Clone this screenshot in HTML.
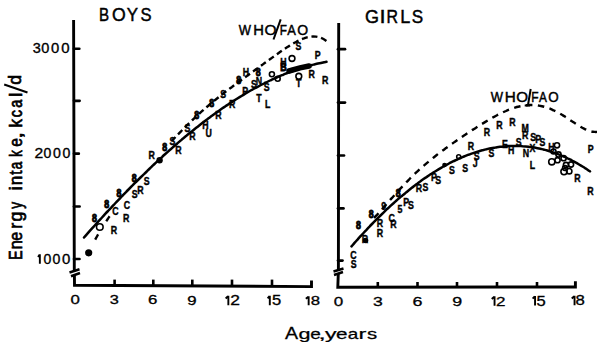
<!DOCTYPE html>
<html><head><meta charset="utf-8"><style>
html,body{margin:0;padding:0;background:#fff;}
svg{display:block;}
text{font-family:"Liberation Sans", sans-serif;fill:#000;}
.ax{fill:none;stroke:#000;stroke-width:2.9;}
.tk{stroke:#000;stroke-width:2.7;stroke-linecap:round;}
.tk2{stroke:#000;stroke-width:2;}
.tk3{stroke:#000;stroke-width:2.6;}
.brk{stroke:#000;stroke-width:2.5;fill:none;}
.yl{font-size:14.5px;stroke:#000;stroke-width:0.45;}
.xl{font-size:13px;stroke:#000;stroke-width:0.45;}
.ttl{font-size:18px;stroke:#000;stroke-width:0.5;}
.axl{font-size:15.5px;stroke:#000;stroke-width:0.5;}
.axl2{font-size:17.5px;stroke:#000;stroke-width:0.6;}
.who{font-size:13px;stroke:#000;stroke-width:0.4;}
.sl{stroke:#000;stroke-width:2;}
.sol{fill:none;stroke:#000;stroke-width:2.5;stroke-linecap:round;}
.dsh{fill:none;stroke:#000;stroke-width:2.4;}
.pt{font-size:10px;font-weight:bold;stroke:#000;stroke-width:0.4;}
.oc{fill:none;stroke:#000;stroke-width:1.6;}
</style></head><body>
<svg width="600" height="347" viewBox="0 0 600 347">
<path d="M73.6 20 L74.3 271.2 M74.4 274.8 L74.5 285.3 L311.5 286.6 V280.4" class="ax"/>
<path d="M74 48.75 H79.3" class="tk"/>
<path d="M74 100.8 H79.6" class="tk"/>
<path d="M74 153.7 H78.8" class="tk"/>
<path d="M74 206.5 H79.6" class="tk"/>
<path d="M74 259 H79.5" class="tk"/>
<path d="M69.5 272.5 L79.5 269.3 M71 276.2 L80 273" class="brk"/>
<path d="M114.6 285.5 V279.6" class="tk3"/>
<path d="M153.3 285.5 V279.6" class="tk3"/>
<path d="M192.3 285.5 V279.6" class="tk3"/>
<path d="M232.0 285.5 V279.6" class="tk3"/>
<path d="M272.0 285.5 V279.6" class="tk3"/>
<text transform="matrix(1.0320 0 0 1.0287 32.82 53.30)" font-size="14" font-weight="normal" stroke="#000" stroke-width="0.340">3</text><text transform="matrix(1.0385 0 0 1.0287 41.31 53.30)" font-size="14" font-weight="normal" stroke="#000" stroke-width="0.339">0</text><text transform="matrix(1.0609 0 0 1.0287 50.89 53.30)" font-size="14" font-weight="normal" stroke="#000" stroke-width="0.335">0</text><text transform="matrix(1.0684 0 0 1.0287 61.29 53.30)" font-size="14" font-weight="normal" stroke="#000" stroke-width="0.334">0</text>
<text transform="matrix(1.1211 0 0 0.9884 34.39 158.30)" font-size="14" font-weight="normal" stroke="#000" stroke-width="0.332">2</text><text transform="matrix(1.0011 0 0 0.9884 43.38 158.30)" font-size="14" font-weight="normal" stroke="#000" stroke-width="0.352">0</text><text transform="matrix(1.0086 0 0 0.9884 52.92 158.30)" font-size="14" font-weight="normal" stroke="#000" stroke-width="0.351">0</text><text transform="matrix(1.0086 0 0 0.9884 62.52 158.30)" font-size="14" font-weight="normal" stroke="#000" stroke-width="0.351">0</text>
<path d="M38.05 256.95 L39.55 254.70 M39.85 254.22 V263.75" fill="none" stroke="#000" stroke-width="1.9"/><text transform="matrix(1.0011 0 0 0.9884 43.38 263.75)" font-size="14" font-weight="normal" stroke="#000" stroke-width="0.352">0</text><text transform="matrix(1.0086 0 0 0.9884 52.52 263.75)" font-size="14" font-weight="normal" stroke="#000" stroke-width="0.351">0</text><text transform="matrix(1.0684 0 0 0.9884 62.09 263.75)" font-size="14" font-weight="normal" stroke="#000" stroke-width="0.340">0</text>
<text transform="matrix(1.2954 0 0 0.9886 70.52 304.10)" font-size="13" font-weight="normal" stroke="#000" stroke-width="0.306">0</text>
<text transform="matrix(1.2574 0 0 0.9886 109.75 304.10)" font-size="13" font-weight="normal" stroke="#000" stroke-width="0.312">3</text>
<text transform="matrix(1.2920 0 0 1.0103 148.02 304.30)" font-size="13" font-weight="normal" stroke="#000" stroke-width="0.304">6</text>
<text transform="matrix(1.2906 0 0 1.0320 187.29 304.50)" font-size="13" font-weight="normal" stroke="#000" stroke-width="0.301">9</text>
<path d="M225.65 298.43 L228.05 296.20 M228.35 295.73 V305.20" fill="none" stroke="#000" stroke-width="1.9"/><text transform="matrix(1.3424 0 0 1.0590 230.30 305.20)" font-size="13" font-weight="normal" stroke="#000" stroke-width="0.291">2</text>
<path d="M267.65 298.43 L269.50 296.20 M269.80 295.73 V305.20" fill="none" stroke="#000" stroke-width="1.9"/><text transform="matrix(1.2736 0 0 1.0590 272.01 305.20)" font-size="13" font-weight="normal" stroke="#000" stroke-width="0.300">5</text>
<path d="M305.85 298.81 L308.35 296.75 M308.65 296.28 V305.20" fill="none" stroke="#000" stroke-width="1.9"/><text transform="matrix(1.2869 0 0 0.9995 310.75 305.20)" font-size="13" font-weight="normal" stroke="#000" stroke-width="0.306">8</text>
<path d="M338.7 23 L338.4 270 M338.3 273.5 L337.8 287.2 L575.4 287 V281.2" class="ax"/>
<path d="M338 49.2 H345" class="tk"/>
<path d="M338 102.6 H345" class="tk"/>
<path d="M338 155.5 H344" class="tk"/>
<path d="M338 208.4 H343.5" class="tk"/>
<path d="M338 260.6 H342.5" class="tk"/>
<path d="M333.5 271.5 L343.5 268.5 M334 275 L343 272" class="brk"/>
<path d="M377.8 287 V282" class="tk3"/>
<path d="M417.5 287 V282" class="tk3"/>
<path d="M457.0 287 V282" class="tk3"/>
<path d="M497.0 287 V282" class="tk3"/>
<path d="M537.0 287 V282" class="tk3"/>
<text transform="matrix(1.3115 0 0 1.0103 333.71 305.80)" font-size="13" font-weight="normal" stroke="#000" stroke-width="0.301">0</text>
<text transform="matrix(1.3547 0 0 1.0320 373.00 305.90)" font-size="13" font-weight="normal" stroke="#000" stroke-width="0.293">3</text>
<text transform="matrix(1.3753 0 0 1.0320 412.47 305.90)" font-size="13" font-weight="normal" stroke="#000" stroke-width="0.291">6</text>
<text transform="matrix(1.3739 0 0 1.0320 452.24 305.90)" font-size="13" font-weight="normal" stroke="#000" stroke-width="0.291">9</text>
<path d="M491.75 298.97 L494.25 296.75 M494.55 296.28 V305.70" fill="none" stroke="#000" stroke-width="1.9"/><text transform="matrix(1.3086 0 0 1.0536 496.02 305.70)" font-size="13" font-weight="normal" stroke="#000" stroke-width="0.296">2</text>
<path d="M532.65 298.70 L534.75 296.45 M535.05 295.98 V305.50" fill="none" stroke="#000" stroke-width="1.9"/><text transform="matrix(1.2736 0 0 1.0645 536.51 305.50)" font-size="13" font-weight="normal" stroke="#000" stroke-width="0.299">5</text>
<path d="M571.75 298.43 L574.25 296.20 M574.55 295.73 V305.20" fill="none" stroke="#000" stroke-width="1.9"/><text transform="matrix(1.2869 0 0 1.0590 575.55 305.20)" font-size="13" font-weight="normal" stroke="#000" stroke-width="0.298">8</text>
<text transform="matrix(0.8403 0 0 1.0073 98.98 21.20)" font-size="18" font-weight="normal" stroke="#000" stroke-width="0.487">B</text><text transform="matrix(0.9807 0 0 1.0073 111.89 21.20)" font-size="18" font-weight="normal" stroke="#000" stroke-width="0.453">O</text><text transform="matrix(0.9407 0 0 1.0073 126.85 21.20)" font-size="18" font-weight="normal" stroke="#000" stroke-width="0.462">Y</text><text transform="matrix(0.9216 0 0 1.0073 140.47 21.20)" font-size="18" font-weight="normal" stroke="#000" stroke-width="0.467">S</text>
<text transform="matrix(0.9999 0 0 1.0477 364.92 22.80)" font-size="18" font-weight="normal" stroke="#000" stroke-width="0.440">G</text><text transform="matrix(1.2212 0 0 1.0477 379.60 22.80)" font-size="18" font-weight="normal" stroke="#000" stroke-width="0.397">I</text><text transform="matrix(0.8842 0 0 1.0477 386.52 22.80)" font-size="18" font-weight="normal" stroke="#000" stroke-width="0.466">R</text><text transform="matrix(1.0017 0 0 1.0477 400.15 22.80)" font-size="18" font-weight="normal" stroke="#000" stroke-width="0.439">L</text><text transform="matrix(0.9506 0 0 1.0477 411.75 22.80)" font-size="18" font-weight="normal" stroke="#000" stroke-width="0.450">S</text>
<text transform="matrix(1.3070 0 0 1.1386 285.11 338.70)" font-size="15" font-weight="normal" stroke="#000" stroke-width="0.245">A</text>
<text transform="matrix(1.4380 0 0 1.0009 298.44 338.70)" font-size="15" font-weight="normal" stroke="#000" stroke-width="0.246">g</text><text transform="matrix(1.2645 0 0 1.0009 310.14 338.70)" font-size="15" font-weight="normal" stroke="#000" stroke-width="0.265">e</text><text transform="matrix(1.8340 0 0 1.0009 318.18 338.70)" font-size="15" font-weight="normal" stroke="#000" stroke-width="0.212">,</text><text transform="matrix(1.5335 0 0 1.0009 325.09 338.70)" font-size="15" font-weight="normal" stroke="#000" stroke-width="0.237">y</text><text transform="matrix(1.3781 0 0 1.0009 335.97 338.70)" font-size="15" font-weight="normal" stroke="#000" stroke-width="0.252">e</text><text transform="matrix(1.2589 0 0 1.0009 347.65 338.70)" font-size="15" font-weight="normal" stroke="#000" stroke-width="0.266">a</text><text transform="matrix(1.5733 0 0 1.0009 358.58 338.70)" font-size="15" font-weight="normal" stroke="#000" stroke-width="0.233">r</text><text transform="matrix(1.3607 0 0 1.0009 367.08 338.70)" font-size="15" font-weight="normal" stroke="#000" stroke-width="0.254">s</text>
<text transform="matrix(0 -0.7739 1.0223 0 22.48 259.82)" font-size="18" font-weight="normal" stroke="#000" stroke-width="0.724">E</text><text transform="matrix(0 -0.8958 1.0223 0 22.41 249.25)" font-size="18" font-weight="normal" stroke="#000" stroke-width="0.678">n</text><text transform="matrix(0 -0.8820 1.0223 0 22.36 240.75)" font-size="18" font-weight="normal" stroke="#000" stroke-width="0.683">e</text><text transform="matrix(0 -0.9889 1.0223 0 22.30 228.86)" font-size="18" font-weight="normal" stroke="#000" stroke-width="0.646">r</text><text transform="matrix(0 -0.9821 1.0223 0 22.25 221.52)" font-size="18" font-weight="normal" stroke="#000" stroke-width="0.649">g</text><text transform="matrix(0 -0.7567 1.0223 0 22.18 208.71)" font-size="18" font-weight="normal" stroke="#000" stroke-width="0.731">y</text><text transform="matrix(0 -1.0430 1.0223 0 22.08 190.53)" font-size="18" font-weight="normal" stroke="#000" stroke-width="0.629">i</text><text transform="matrix(0 -0.9481 1.0223 0 22.03 185.21)" font-size="18" font-weight="normal" stroke="#000" stroke-width="0.660">n</text><text transform="matrix(0 -0.8593 1.0223 0 21.98 174.71)" font-size="18" font-weight="normal" stroke="#000" stroke-width="0.691">t</text><text transform="matrix(0 -0.7409 1.0223 0 21.94 169.24)" font-size="18" font-weight="normal" stroke="#000" stroke-width="0.737">a</text><text transform="matrix(0 -0.7231 1.0223 0 21.86 156.85)" font-size="18" font-weight="normal" stroke="#000" stroke-width="0.745">k</text><text transform="matrix(0 -0.8702 1.0223 0 21.80 146.64)" font-size="18" font-weight="normal" stroke="#000" stroke-width="0.687">e</text><text transform="matrix(0 -1.4434 1.0223 0 21.76 139.11)" font-size="18" font-weight="normal" stroke="#000" stroke-width="0.527">,</text><text transform="matrix(0 -0.9407 1.0223 0 21.68 127.52)" font-size="18" font-weight="normal" stroke="#000" stroke-width="0.662">k</text><text transform="matrix(0 -0.8053 1.0223 0 21.63 117.19)" font-size="18" font-weight="normal" stroke="#000" stroke-width="0.711">c</text><text transform="matrix(0 -0.8057 1.0223 0 21.57 107.79)" font-size="18" font-weight="normal" stroke="#000" stroke-width="0.711">a</text><text transform="matrix(0 -1.1062 1.0223 0 21.51 97.02)" font-size="18" font-weight="normal" stroke="#000" stroke-width="0.611">l</text><text transform="matrix(0 -0.9821 1.0223 0 21.43 84.82)" font-size="18" font-weight="normal" stroke="#000" stroke-width="0.649">d</text>
<path d="M4.2 84.4 L27.5 92.4" fill="none" stroke="#000" stroke-width="2.1"/>
<text transform="matrix(0.9985 0 0 1.1232 238.87 34.80)" font-size="13" font-weight="normal" stroke="#000" stroke-width="0.424">W</text><text transform="matrix(1.1361 0 0 1.1232 253.31 34.80)" font-size="13" font-weight="normal" stroke="#000" stroke-width="0.398">H</text><text transform="matrix(1.1889 0 0 1.1232 264.49 34.80)" font-size="13" font-weight="normal" stroke="#000" stroke-width="0.389">O</text><text transform="matrix(0.9049 0 0 1.1232 279.66 34.80)" font-size="13" font-weight="normal" stroke="#000" stroke-width="0.444">F</text><text transform="matrix(0.9919 0 0 1.1232 287.20 34.80)" font-size="13" font-weight="normal" stroke="#000" stroke-width="0.426">A</text><text transform="matrix(1.0762 0 0 1.1232 297.26 34.80)" font-size="13" font-weight="normal" stroke="#000" stroke-width="0.409">O</text>
<path d="M280.7 19.4 L273.5 39.5" class="sl"/>
<text transform="matrix(0.9985 0 0 1.0674 490.87 102.30)" font-size="13" font-weight="normal" stroke="#000" stroke-width="0.436">W</text><text transform="matrix(1.1774 0 0 1.0674 504.67 102.30)" font-size="13" font-weight="normal" stroke="#000" stroke-width="0.401">H</text><text transform="matrix(1.1663 0 0 1.0674 516.21 102.30)" font-size="13" font-weight="normal" stroke="#000" stroke-width="0.403">O</text><text transform="matrix(0.9207 0 0 1.0674 531.24 102.30)" font-size="13" font-weight="normal" stroke="#000" stroke-width="0.453">F</text><text transform="matrix(0.9107 0 0 1.0674 538.90 102.30)" font-size="13" font-weight="normal" stroke="#000" stroke-width="0.455">A</text><text transform="matrix(1.0311 0 0 1.0674 548.29 102.30)" font-size="13" font-weight="normal" stroke="#000" stroke-width="0.429">O</text>
<path d="M530.7 89 L528 105 M524.7 105.5 H530" class="sl"/>
<path d="M84.0 237.5 C84.5 236.9 86.0 235.2 87.0 234.1 C88.0 233.0 89.0 231.8 90.0 230.7 C91.0 229.6 92.0 228.5 93.0 227.4 C94.0 226.3 95.0 225.2 96.0 224.0 C97.0 222.9 98.0 221.8 99.0 220.7 C100.0 219.6 101.0 218.6 102.0 217.5 C103.0 216.4 104.0 215.3 105.0 214.2 C106.0 213.1 107.0 212.0 108.0 211.0 C109.0 209.9 110.0 208.8 111.0 207.8 C112.0 206.7 113.0 205.6 114.0 204.6 C115.0 203.5 116.0 202.5 117.0 201.4 C118.0 200.4 119.0 199.3 120.0 198.3 C121.0 197.2 122.0 196.2 123.0 195.1 C124.0 194.1 125.0 193.1 126.0 192.1 C127.0 191.0 128.0 190.0 129.0 189.0 C130.0 188.0 131.0 187.0 132.0 186.0 C133.0 184.9 134.0 183.9 135.0 182.9 C136.0 181.9 137.0 180.9 138.0 180.0 C139.0 179.0 140.0 178.0 141.0 177.0 C142.0 176.0 143.0 175.0 144.0 174.1 C145.0 173.1 146.0 172.1 147.0 171.2 C148.0 170.2 149.0 169.2 150.0 168.3 C151.0 167.3 152.0 166.4 153.0 165.4 C154.0 164.5 155.0 163.5 156.0 162.6 C157.0 161.7 158.0 160.7 159.0 159.8 C160.0 158.9 161.0 158.0 162.0 157.1 C163.0 156.1 164.0 155.2 165.0 154.3 C166.0 153.4 167.0 152.5 168.0 151.6 C169.0 150.7 170.0 149.8 171.0 149.0 C172.0 148.1 173.0 147.2 174.0 146.3 C175.0 145.4 176.0 144.6 177.0 143.7 C178.0 142.8 179.0 142.0 180.0 141.1 C181.0 140.3 182.0 139.4 183.0 138.6 C184.0 137.7 185.0 136.9 186.0 136.1 C187.0 135.2 188.0 134.4 189.0 133.6 C190.0 132.8 191.0 132.0 192.0 131.2 C193.0 130.3 194.0 129.5 195.0 128.7 C196.0 127.9 197.0 127.2 198.0 126.4 C199.0 125.6 200.0 124.8 201.0 124.0 C202.0 123.2 203.0 122.5 204.0 121.7 C205.0 121.0 206.0 120.2 207.0 119.4 C208.0 118.7 209.0 117.9 210.0 117.2 C211.0 116.5 212.0 115.7 213.0 115.0 C214.0 114.3 215.0 113.6 216.0 112.8 C217.0 112.1 218.0 111.4 219.0 110.7 C220.0 110.0 221.0 109.3 222.0 108.6 C223.0 107.9 224.0 107.2 225.0 106.6 C226.0 105.9 227.0 105.2 228.0 104.6 C229.0 103.9 230.0 103.2 231.0 102.6 C232.0 101.9 233.0 101.3 234.0 100.6 C235.0 100.0 236.0 99.4 237.0 98.7 C238.0 98.1 239.0 97.5 240.0 96.9 C241.0 96.3 242.0 95.7 243.0 95.1 C244.0 94.5 245.0 93.9 246.0 93.3 C247.0 92.7 248.0 92.1 249.0 91.5 C250.0 91.0 251.0 90.4 252.0 89.8 C253.0 89.3 254.0 88.7 255.0 88.2 C256.0 87.6 257.0 87.1 258.0 86.6 C259.0 86.0 260.0 85.5 261.0 85.0 C262.0 84.5 263.0 84.0 264.0 83.5 C265.0 82.9 266.0 82.5 267.0 82.0 C268.0 81.5 269.0 81.0 270.0 80.5 C271.0 80.0 272.0 79.6 273.0 79.1 C274.0 78.7 275.0 78.2 276.0 77.8 C277.0 77.3 278.0 76.9 279.0 76.4 C280.0 76.0 281.0 75.6 282.0 75.2 C283.0 74.8 284.0 74.3 285.0 73.9 C286.0 73.5 287.0 73.1 288.0 72.8 C289.0 72.4 290.0 72.0 291.0 71.6 C292.0 71.3 293.0 70.9 294.0 70.5 C295.0 70.2 296.0 69.8 297.0 69.5 C298.0 69.2 299.0 68.8 300.0 68.5 C301.0 68.2 302.0 67.9 303.0 67.6 C304.0 67.2 305.0 66.9 306.0 66.7 C307.0 66.4 308.0 66.1 309.0 65.8 C310.0 65.5 311.0 65.3 312.0 65.0 C313.0 64.7 314.0 64.5 315.0 64.2 C316.0 64.0 317.0 63.8 318.0 63.5 C319.0 63.3 320.0 63.1 321.0 62.9 C322.0 62.7 323.1 62.5 324.0 62.3 C324.9 62.1 326.1 61.9 326.5 61.8" class="sol"/>
<path d="M89.0 251.7 C89.3 251.1 90.3 249.0 91.0 247.6 C91.7 246.3 92.3 245.0 93.0 243.7 C93.7 242.4 94.3 241.2 95.0 240.0 C95.7 238.7 96.3 237.5 97.0 236.4 C97.7 235.2 98.3 234.0 99.0 232.9 C99.7 231.7 100.3 230.6 101.0 229.5 C101.7 228.4 102.3 227.3 103.0 226.3 C103.7 225.2 104.3 224.2 105.0 223.1 C105.7 222.1 106.3 221.1 107.0 220.1 C107.7 219.1 108.3 218.1 109.0 217.1 C109.7 216.1 110.5 214.9 111.0 214.2 C111.5 213.5 111.8 213.0 112.0 212.8" class="dsh" stroke-dasharray="0 13.5 6 15.5 6 100" style="stroke-width:2.4"/>
<path d="M172.0 140.7 C172.5 140.1 174.0 138.5 175.0 137.5 C176.0 136.4 177.0 135.4 178.0 134.3 C179.0 133.3 180.0 132.3 181.0 131.3 C182.0 130.2 183.0 129.2 184.0 128.2 C185.0 127.2 186.0 126.2 187.0 125.2 C188.0 124.3 189.0 123.3 190.0 122.3 C191.0 121.4 192.0 120.4 193.0 119.5 C194.0 118.5 195.0 117.6 196.0 116.6 C197.0 115.7 198.0 114.8 199.0 113.9 C200.0 113.0 201.0 112.1 202.0 111.2 C203.0 110.3 204.0 109.4 205.0 108.5 C206.0 107.7 207.0 106.8 208.0 106.0 C209.0 105.1 210.0 104.3 211.0 103.4 C212.0 102.6 213.0 101.8 214.0 100.9 C215.0 100.1 216.0 99.3 217.0 98.5 C218.0 97.7 219.0 96.9 220.0 96.1 C221.0 95.3 222.0 94.5 223.0 93.7 C224.0 93.0 225.0 92.2 226.0 91.4 C227.0 90.7 228.0 89.9 229.0 89.1 C230.0 88.4 231.0 87.6 232.0 86.9 C233.0 86.1 234.0 85.4 235.0 84.6 C236.0 83.9 237.0 83.2 238.0 82.4 C239.0 81.7 240.0 81.0 241.0 80.2 C242.0 79.5 243.0 78.8 244.0 78.0 C245.0 77.3 246.0 76.6 247.0 75.9 C248.0 75.1 249.0 74.4 250.0 73.7 C251.0 73.0 252.0 72.2 253.0 71.5 C254.0 70.8 255.0 70.1 256.0 69.3 C257.0 68.6 258.0 67.9 259.0 67.2 C260.0 66.4 261.0 65.7 262.0 65.0 C263.0 64.3 264.0 63.5 265.0 62.8 C266.0 62.1 267.0 61.4 268.0 60.6 C269.0 59.9 270.0 59.2 271.0 58.5 C272.0 57.8 273.0 57.0 274.0 56.3 C275.0 55.6 276.0 54.9 277.0 54.2 C278.0 53.5 279.0 52.8 280.0 52.1 C281.0 51.4 282.0 50.7 283.0 50.0 C284.0 49.3 285.0 48.7 286.0 48.0 C287.0 47.4 288.0 46.7 289.0 46.1 C290.0 45.5 291.0 44.8 292.0 44.2 C293.0 43.7 294.0 43.1 295.0 42.5 C296.0 42.0 297.0 41.4 298.0 40.9 C299.0 40.5 300.0 40.0 301.0 39.5 C302.0 39.1 303.0 38.7 304.0 38.4 C305.0 38.0 306.0 37.7 307.0 37.4 C308.0 37.2 309.0 37.0 310.0 36.8 C311.0 36.6 312.0 36.5 313.0 36.5 C314.0 36.5 315.0 36.5 316.0 36.6 C317.0 36.7 318.0 36.9 319.0 37.2 C320.0 37.5 321.0 37.8 322.0 38.3 C323.0 38.8 324.2 39.5 325.0 40.0 C325.8 40.5 326.7 41.3 327.0 41.5" class="dsh" stroke-dasharray="6 3.8" stroke-dashoffset="1"/>
<path d="M351.5 246.4 C352.0 245.8 353.5 244.1 354.5 242.9 C355.5 241.8 356.5 240.7 357.5 239.6 C358.5 238.4 359.5 237.3 360.5 236.2 C361.5 235.1 362.5 234.1 363.5 233.0 C364.5 231.9 365.5 230.8 366.5 229.8 C367.5 228.7 368.5 227.6 369.5 226.6 C370.5 225.5 371.5 224.5 372.5 223.5 C373.5 222.5 374.5 221.4 375.5 220.4 C376.5 219.4 377.5 218.4 378.5 217.4 C379.5 216.4 380.5 215.4 381.5 214.5 C382.5 213.5 383.5 212.5 384.5 211.6 C385.5 210.6 386.5 209.7 387.5 208.7 C388.5 207.8 389.5 206.9 390.5 205.9 C391.5 205.0 392.5 204.1 393.5 203.2 C394.5 202.3 395.5 201.4 396.5 200.5 C397.5 199.7 398.5 198.8 399.5 197.9 C400.5 197.1 401.5 196.2 402.5 195.4 C403.5 194.5 404.5 193.7 405.5 192.9 C406.5 192.0 407.5 191.2 408.5 190.4 C409.5 189.6 410.5 188.8 411.5 188.0 C412.5 187.3 413.5 186.5 414.5 185.7 C415.5 185.0 416.5 184.2 417.5 183.5 C418.5 182.7 419.5 182.0 420.5 181.3 C421.5 180.5 422.5 179.8 423.5 179.1 C424.5 178.4 425.5 177.7 426.5 177.1 C427.5 176.4 428.5 175.7 429.5 175.0 C430.5 174.4 431.5 173.7 432.5 173.1 C433.5 172.4 434.5 171.8 435.5 171.2 C436.5 170.6 437.5 170.0 438.5 169.4 C439.5 168.8 440.5 168.2 441.5 167.6 C442.5 167.0 443.5 166.5 444.5 165.9 C445.5 165.4 446.5 164.8 447.5 164.3 C448.5 163.8 449.5 163.2 450.5 162.7 C451.5 162.2 452.5 161.7 453.5 161.2 C454.5 160.7 455.5 160.3 456.5 159.8 C457.5 159.3 458.5 158.9 459.5 158.4 C460.5 158.0 461.5 157.5 462.5 157.1 C463.5 156.7 464.5 156.3 465.5 155.9 C466.5 155.5 467.5 155.1 468.5 154.7 C469.5 154.4 470.5 154.0 471.5 153.6 C472.5 153.3 473.5 153.0 474.5 152.6 C475.5 152.3 476.5 152.0 477.5 151.7 C478.5 151.4 479.5 151.1 480.5 150.8 C481.5 150.5 482.5 150.2 483.5 150.0 C484.5 149.7 485.5 149.5 486.5 149.3 C487.5 149.0 488.5 148.8 489.5 148.6 C490.5 148.4 491.5 148.2 492.5 148.0 C493.5 147.8 494.5 147.6 495.5 147.5 C496.5 147.3 497.5 147.2 498.5 147.0 C499.5 146.9 500.5 146.8 501.5 146.7 C502.5 146.5 503.5 146.4 504.5 146.4 C505.5 146.3 506.5 146.2 507.5 146.1 C508.5 146.1 509.5 146.0 510.5 146.0 C511.5 146.0 512.5 145.9 513.5 145.9 C514.5 145.9 515.5 145.9 516.5 145.9 C517.5 145.9 518.5 146.0 519.5 146.0 C520.5 146.1 521.5 146.1 522.5 146.2 C523.5 146.2 524.5 146.3 525.5 146.4 C526.5 146.5 527.5 146.6 528.5 146.7 C529.5 146.9 530.5 147.0 531.5 147.1 C532.5 147.3 533.5 147.4 534.5 147.6 C535.5 147.8 536.5 148.0 537.5 148.2 C538.5 148.4 539.5 148.6 540.5 148.8 C541.5 149.0 542.5 149.3 543.5 149.5 C544.5 149.8 545.5 150.0 546.5 150.3 C547.5 150.6 548.5 150.9 549.5 151.2 C550.5 151.5 551.5 151.8 552.5 152.2 C553.5 152.5 554.5 152.9 555.5 153.2 C556.5 153.6 557.5 154.0 558.5 154.4 C559.5 154.7 560.5 155.1 561.5 155.6 C562.5 156.0 563.5 156.4 564.5 156.9 C565.5 157.3 566.5 157.8 567.5 158.3 C568.5 158.7 569.5 159.2 570.5 159.7 C571.5 160.2 572.5 160.8 573.5 161.3 C574.5 161.8 575.5 162.4 576.5 162.9 C577.5 163.5 578.5 164.1 579.5 164.7 C580.5 165.3 581.5 165.9 582.5 166.5 C583.5 167.1 584.5 167.7 585.5 168.4 C586.5 169.0 587.8 169.9 588.5 170.4 C589.2 170.9 589.8 171.2 590.0 171.4" class="sol"/>
<path d="M374.0 217.9 C374.5 217.4 376.0 215.8 377.0 214.8 C378.0 213.7 379.0 212.6 380.0 211.5 C381.0 210.4 382.0 209.2 383.0 208.1 C384.0 207.0 385.0 205.8 386.0 204.7 C387.0 203.6 388.0 202.4 389.0 201.3 C390.0 200.1 391.0 199.0 392.0 197.9 C393.0 196.7 394.0 195.6 395.0 194.5 C396.0 193.4 397.0 192.3 398.0 191.2 C399.0 190.1 400.0 189.0 401.0 187.9 C402.0 186.8 403.0 185.8 404.0 184.7 C405.0 183.7 406.0 182.6 407.0 181.6 C408.0 180.6 409.0 179.5 410.0 178.5 C411.0 177.5 412.0 176.6 413.0 175.6 C414.0 174.6 415.0 173.7 416.0 172.7 C417.0 171.8 418.0 170.9 419.0 169.9 C420.0 169.0 421.0 168.1 422.0 167.2 C423.0 166.4 424.0 165.5 425.0 164.6 C426.0 163.8 427.0 162.9 428.0 162.1 C429.0 161.2 430.0 160.4 431.0 159.6 C432.0 158.8 433.0 158.0 434.0 157.2 C435.0 156.4 436.0 155.6 437.0 154.8 C438.0 154.1 439.0 153.3 440.0 152.5 C441.0 151.8 442.0 151.0 443.0 150.3 C444.0 149.6 445.0 148.8 446.0 148.1 C447.0 147.4 448.0 146.6 449.0 145.9 C450.0 145.2 451.0 144.5 452.0 143.8 C453.0 143.1 454.0 142.4 455.0 141.7 C456.0 141.0 457.0 140.3 458.0 139.6 C459.0 138.9 460.0 138.3 461.0 137.6 C462.0 136.9 463.0 136.2 464.0 135.5 C465.0 134.9 466.0 134.2 467.0 133.5 C468.0 132.9 469.0 132.2 470.0 131.6 C471.0 130.9 472.0 130.2 473.0 129.6 C474.0 129.0 475.0 128.3 476.0 127.7 C477.0 127.0 478.0 126.4 479.0 125.8 C480.0 125.1 481.0 124.5 482.0 123.9 C483.0 123.3 484.0 122.7 485.0 122.1 C486.0 121.5 487.0 120.9 488.0 120.3 C489.0 119.7 490.0 119.1 491.0 118.5 C492.0 118.0 493.0 117.4 494.0 116.9 C495.0 116.3 496.0 115.8 497.0 115.3 C498.0 114.7 499.0 114.2 500.0 113.7 C501.0 113.2 502.0 112.8 503.0 112.3 C504.0 111.8 505.0 111.4 506.0 111.0 C507.0 110.5 508.0 110.1 509.0 109.7 C510.0 109.3 511.0 109.0 512.0 108.6 C513.0 108.3 514.0 107.9 515.0 107.6 C516.0 107.3 517.0 107.0 518.0 106.8 C519.0 106.5 520.0 106.3 521.0 106.1 C522.0 105.9 523.0 105.7 524.0 105.6 C525.0 105.4 526.0 105.3 527.0 105.2 C528.0 105.1 529.0 105.1 530.0 105.0 C531.0 105.0 532.0 105.0 533.0 105.0 C534.0 105.1 535.0 105.1 536.0 105.2 C537.0 105.3 538.0 105.5 539.0 105.6 C540.0 105.8 541.0 106.0 542.0 106.2 C543.0 106.4 544.0 106.7 545.0 107.0 C546.0 107.3 547.0 107.6 548.0 108.0 C549.0 108.3 550.0 108.7 551.0 109.1 C552.0 109.6 553.0 110.0 554.0 110.5 C555.0 111.0 556.0 111.5 557.0 112.0 C558.0 112.5 559.0 113.1 560.0 113.6 C561.0 114.2 562.0 114.8 563.0 115.4 C564.0 116.0 565.0 116.7 566.0 117.3 C567.0 117.9 568.0 118.6 569.0 119.3 C570.0 119.9 571.0 120.6 572.0 121.3 C573.0 121.9 574.0 122.6 575.0 123.2 C576.0 123.9 577.0 124.5 578.0 125.2 C579.0 125.8 580.0 126.4 581.0 127.0 C582.0 127.6 583.0 128.1 584.0 128.6 C585.0 129.1 586.0 129.6 587.0 130.0 C588.0 130.4 589.0 130.8 590.0 131.1 C591.0 131.4 592.0 131.7 593.0 131.8 C594.0 131.9 595.3 131.9 596.0 132.0 C596.7 132.0 596.8 131.9 597.0 131.9" class="dsh" stroke-dasharray="6.5 5.5"/>
<text transform="translate(94.4 221.5) scale(0.88 1)" class="pt" text-anchor="middle" style="stroke-width:0.9">8</text>
<text transform="translate(113.9 233.8) scale(0.88 1)" class="pt" text-anchor="middle">R</text>
<text transform="translate(106.7 207.8) scale(0.88 1)" class="pt" text-anchor="middle" style="stroke-width:0.9">8</text>
<text transform="translate(126.9 208.6) scale(0.88 1)" class="pt" text-anchor="middle">C</text>
<text transform="translate(115.4 215.0) scale(0.88 1)" class="pt" text-anchor="middle">C</text>
<text transform="translate(126.2 222.3) scale(0.88 1)" class="pt" text-anchor="middle">R</text>
<text transform="translate(119.0 197.0) scale(0.88 1)" class="pt" text-anchor="middle" style="stroke-width:0.9">8</text>
<text transform="translate(134.8 197.7) scale(0.88 1)" class="pt" text-anchor="middle">S</text>
<text transform="translate(140.4 194.4) scale(0.88 1)" class="pt" text-anchor="middle">R</text>
<text transform="translate(134.3 181.6) scale(0.88 1)" class="pt" text-anchor="middle" style="stroke-width:0.9">8</text>
<text transform="translate(146.6 184.5) scale(0.88 1)" class="pt" text-anchor="middle">S</text>
<text transform="translate(151.6 159.3) scale(0.88 1)" class="pt" text-anchor="middle">R</text>
<text transform="translate(164.6 151.3) scale(0.88 1)" class="pt" text-anchor="middle" style="stroke-width:0.9">8</text>
<text transform="translate(172.4 144.9) scale(0.88 1)" class="pt" text-anchor="middle">S</text>
<text transform="translate(178.3 153.5) scale(0.88 1)" class="pt" text-anchor="middle">R</text>
<text transform="translate(187.5 132.4) scale(0.88 1)" class="pt" text-anchor="middle">S</text>
<text transform="translate(192.3 139.5) scale(0.88 1)" class="pt" text-anchor="middle">R</text>
<text transform="translate(205.3 129.4) scale(0.88 1)" class="pt" text-anchor="middle">H</text>
<text transform="translate(208.7 136.6) scale(0.88 1)" class="pt" text-anchor="middle">U</text>
<text transform="translate(218.3 119.3) scale(0.88 1)" class="pt" text-anchor="middle">R</text>
<text transform="translate(196.6 119.3) scale(0.88 1)" class="pt" text-anchor="middle" style="stroke-width:0.9">8</text>
<text transform="translate(211.8 107.0) scale(0.88 1)" class="pt" text-anchor="middle" style="stroke-width:0.9">8</text>
<text transform="translate(223.3 97.7) scale(0.88 1)" class="pt" text-anchor="middle">S</text>
<text transform="translate(232.1 107.9) scale(0.88 1)" class="pt" text-anchor="middle">R</text>
<text transform="translate(238.7 84.2) scale(0.88 1)" class="pt" text-anchor="middle" style="stroke-width:0.9">8</text>
<text transform="translate(245.9 76.3) scale(0.88 1)" class="pt" text-anchor="middle">H</text>
<text transform="translate(258.2 75.6) scale(0.88 1)" class="pt" text-anchor="middle" style="stroke-width:0.9">8</text>
<text transform="translate(245.2 95.0) scale(0.88 1)" class="pt" text-anchor="middle">P</text>
<text transform="translate(253.9 87.8) scale(0.88 1)" class="pt" text-anchor="middle">S</text>
<text transform="translate(258.9 84.9) scale(0.88 1)" class="pt" text-anchor="middle">N</text>
<text transform="translate(266.8 90.7) scale(0.88 1)" class="pt" text-anchor="middle">S</text>
<text transform="translate(258.9 101.5) scale(0.88 1)" class="pt" text-anchor="middle">T</text>
<text transform="translate(267.6 108.0) scale(0.88 1)" class="pt" text-anchor="middle">L</text>
<text transform="translate(298.5 49.9) scale(0.88 1)" class="pt" text-anchor="middle">S</text>
<text transform="translate(283.5 66.4) scale(0.88 1)" class="pt" text-anchor="middle">H</text>
<text transform="translate(283.3 70.9) scale(0.88 1)" class="pt" text-anchor="middle" style="stroke-width:0.9">B</text>
<text transform="translate(317.7 58.6) scale(0.88 1)" class="pt" text-anchor="middle">P</text>
<text transform="translate(298.8 86.9) scale(0.88 1)" class="pt" text-anchor="middle">T</text>
<text transform="translate(311.6 77.8) scale(0.88 1)" class="pt" text-anchor="middle">R</text>
<text transform="translate(325.2 83.9) scale(0.88 1)" class="pt" text-anchor="middle">R</text>
<text transform="translate(353.3 259.1) scale(0.88 1)" class="pt" text-anchor="middle">C</text>
<text transform="translate(353.6 268.4) scale(0.88 1)" class="pt" text-anchor="middle">S</text>
<text transform="translate(364.8 242.7) scale(0.88 1)" class="pt" text-anchor="middle">R</text>
<text transform="translate(358.4 229.4) scale(0.88 1)" class="pt" text-anchor="middle" style="stroke-width:0.9">8</text>
<text transform="translate(379.8 237.2) scale(0.88 1)" class="pt" text-anchor="middle">R</text>
<text transform="translate(371.1 218.2) scale(0.88 1)" class="pt" text-anchor="middle" style="stroke-width:0.9">8</text>
<text transform="translate(379.8 226.9) scale(0.88 1)" class="pt" text-anchor="middle">R</text>
<text transform="translate(383.8 209.9) scale(0.88 1)" class="pt" text-anchor="middle">9</text>
<text transform="translate(391.7 222.1) scale(0.88 1)" class="pt" text-anchor="middle">C</text>
<text transform="translate(393.3 228.4) scale(0.88 1)" class="pt" text-anchor="middle">R</text>
<text transform="translate(400.0 212.6) scale(0.88 1)" class="pt" text-anchor="middle">5</text>
<text transform="translate(406.3 206.0) scale(0.88 1)" class="pt" text-anchor="middle">P</text>
<text transform="translate(411.0 209.2) scale(0.88 1)" class="pt" text-anchor="middle">S</text>
<text transform="translate(398.2 196.9) scale(0.88 1)" class="pt" text-anchor="middle" style="stroke-width:0.9">8</text>
<text transform="translate(419.0 192.0) scale(0.88 1)" class="pt" text-anchor="middle">R</text>
<text transform="translate(425.5 191.1) scale(0.88 1)" class="pt" text-anchor="middle">S</text>
<text transform="translate(434.0 180.7) scale(0.88 1)" class="pt" text-anchor="middle">P</text>
<text transform="translate(438.2 184.4) scale(0.88 1)" class="pt" text-anchor="middle">S</text>
<text transform="translate(452.0 174.4) scale(0.88 1)" class="pt" text-anchor="middle">S</text>
<text transform="translate(465.2 171.6) scale(0.88 1)" class="pt" text-anchor="middle">S</text>
<text transform="translate(470.9 150.0) scale(0.88 1)" class="pt" text-anchor="middle">R</text>
<text transform="translate(476.7 160.1) scale(0.88 1)" class="pt" text-anchor="middle">S</text>
<text transform="translate(475.3 166.6) scale(0.88 1)" class="pt" text-anchor="middle">J</text>
<text transform="translate(491.5 157.4) scale(0.88 1)" class="pt" text-anchor="middle">S</text>
<text transform="translate(486.8 136.3) scale(0.88 1)" class="pt" text-anchor="middle">R</text>
<text transform="translate(499.5 129.4) scale(0.88 1)" class="pt" text-anchor="middle">R</text>
<text transform="translate(512.5 126.4) scale(0.88 1)" class="pt" text-anchor="middle">R</text>
<text transform="translate(525.2 132.0) scale(0.88 1)" class="pt" text-anchor="middle">M</text>
<text transform="translate(525.2 138.5) scale(0.88 1)" class="pt" text-anchor="middle">R</text>
<text transform="translate(533.1 141.4) scale(0.88 1)" class="pt" text-anchor="middle">S</text>
<text transform="translate(538.2 142.8) scale(0.88 1)" class="pt" text-anchor="middle">P</text>
<text transform="translate(542.5 146.4) scale(0.88 1)" class="pt" text-anchor="middle">S</text>
<text transform="translate(518.7 146.4) scale(0.88 1)" class="pt" text-anchor="middle">S</text>
<text transform="translate(505.0 147.7) scale(0.88 1)" class="pt" text-anchor="middle">E</text>
<text transform="translate(511.2 154.2) scale(0.88 1)" class="pt" text-anchor="middle">H</text>
<text transform="translate(525.9 157.3) scale(0.88 1)" class="pt" text-anchor="middle">N</text>
<text transform="translate(532.4 152.2) scale(0.88 1)" class="pt" text-anchor="middle">X</text>
<text transform="translate(532.4 168.8) scale(0.88 1)" class="pt" text-anchor="middle">L</text>
<text transform="translate(551.5 150.9) scale(0.88 1)" class="pt" text-anchor="middle">H</text>
<text transform="translate(590.8 152.9) scale(0.88 1)" class="pt" text-anchor="middle">P</text>
<text transform="translate(577.5 181.9) scale(0.88 1)" class="pt" text-anchor="middle">R</text>
<text transform="translate(590.5 194.7) scale(0.88 1)" class="pt" text-anchor="middle">R</text>
<circle cx="99.8" cy="227" r="3.3" class="oc"/>
<circle cx="271.9" cy="74.3" r="2.5" class="oc"/>
<circle cx="277.7" cy="78.7" r="2.5" class="oc"/>
<circle cx="292" cy="58.5" r="2.9" class="oc"/>
<circle cx="298.8" cy="76.3" r="2.9" class="oc"/>
<circle cx="458.7" cy="156.7" r="2" class="oc"/>
<circle cx="557" cy="145.3" r="2.6" class="oc"/>
<circle cx="553.5" cy="151.5" r="2.5" class="oc"/>
<circle cx="558.5" cy="154.5" r="2.6" class="oc"/>
<circle cx="551.8" cy="161.8" r="3.1" class="oc"/>
<circle cx="557.5" cy="160.2" r="2.6" class="oc"/>
<circle cx="563.6" cy="158.2" r="2.6" class="oc"/>
<circle cx="566" cy="165" r="2.6" class="oc"/>
<circle cx="571" cy="164.5" r="2.6" class="oc"/>
<circle cx="564" cy="171.6" r="3.1" class="oc"/>
<circle cx="569.2" cy="171.2" r="2.7" class="oc"/>
<circle cx="565" cy="168" r="2.4" class="oc"/>
<path d="M289 71 L300 67.8 L309 66" fill="none" stroke="#000" stroke-width="5.5" stroke-linecap="round"/>
<circle cx="159.6" cy="160.2" r="3.2"/>
<circle cx="88.7" cy="252.8" r="3.6"/>
<circle cx="444.5" cy="165" r="2.3"/>
<circle cx="365.5" cy="240.5" r="2.8"/>
</svg>
</body></html>
